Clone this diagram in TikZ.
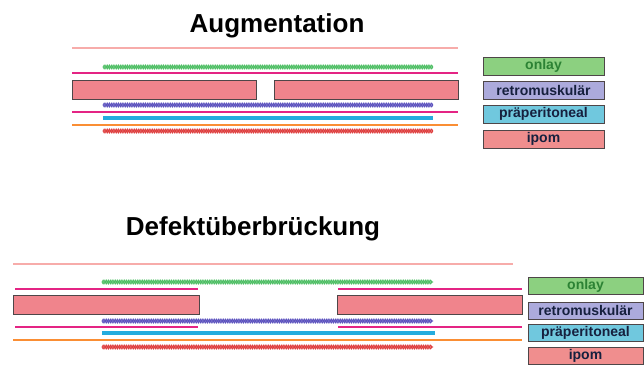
\documentclass[tikz,border=0pt]{standalone}
\usepackage{fontspec}
\setmainfont{Liberation Sans}
\usetikzlibrary{decorations.pathmorphing}

\definecolor{skinline}{RGB}{247,172,170}
\definecolor{fascia}{RGB}{228,36,132}
\definecolor{musclefill}{RGB}{240,132,140}
\definecolor{musclerim}{RGB}{78,70,72}
\definecolor{onlaymesh}{RGB}{78,190,100}
\definecolor{retromesh}{RGB}{92,82,190}
\definecolor{praeline}{RGB}{36,172,222}
\definecolor{peritoneum}{RGB}{250,142,52}
\definecolor{ipommesh}{RGB}{222,62,62}
\definecolor{onlayfill}{RGB}{140,208,128}
\definecolor{onlaytext}{RGB}{44,130,52}
\definecolor{retrofill}{RGB}{172,170,220}
\definecolor{praefill}{RGB}{112,200,222}
\definecolor{ipomfill}{RGB}{240,142,142}
\definecolor{labeltext}{RGB}{22,32,62}

\tikzset{
    skin/.style = {draw = skinline, line width = 2.2pt},
    fasciabar/.style = {draw = fascia, line width = 2pt},
    muscleslab/.style = {draw = musclerim, fill = musclefill, line width = 1pt},
    meshwave/.style = {decorate, decoration = {snake, amplitude = 1.8pt, segment length = 3.6pt}, line width = 0.9pt},
    praeband/.style = {draw = praeline, line width = 4pt},
    periline/.style = {draw = peritoneum, line width = 2pt},
    heading/.style = {anchor = base, font = \bfseries\fontsize{26}{26}\selectfont},
    legendbox/.style = {draw = musclerim, line width = 1pt, inner sep = 0pt, text = labeltext,
        font = \bfseries\fontsize{14}{14}\selectfont}
}

% a mesh drawn as two crossing waves
\newcommand\meshstrip[4]{%
    \draw[meshwave, #1] (#3,#2) -- (#4,#2);
    \draw[meshwave, #1, decoration = {mirror}] (#3,#2) -- (#4,#2);
}

\begin{document}
\begin{tikzpicture}[x = 1pt, y = -1pt]
    \useasboundingbox (0,0) rectangle (644,369);

    % Augmentation
    \node[heading] (augtitle) at (277,33) {Augmentation};
    \draw[skin] (72,48) -- (458,48);
    \meshstrip{onlaymesh}{67}{103}{433}
    \draw[fasciabar] (72,73) -- (458,73);
    \draw[muscleslab] (72,80) rectangle (256,99);
    \draw[muscleslab] (274,80) rectangle (458,99);
    \meshstrip{retromesh}{105}{103}{433}
    \draw[fasciabar] (72,112) -- (458,112);
    \draw[praeband] (103,118) -- (433,118);
    \draw[periline] (72,124.5) -- (458,124.5);
    \meshstrip{ipommesh}{131}{103}{433}

    \node[legendbox, fill = onlayfill, text = onlaytext, minimum width = 121pt, minimum height = 18pt] (augonlay) at (543.5,66) {onlay};
    \node[legendbox, fill = retrofill, minimum width = 121pt, minimum height = 18pt] (augretro) at (543.5,90) {retromuskulär};
    \node[legendbox, fill = praefill, minimum width = 121pt, minimum height = 18pt] (augprae) at (543.5,114) {präperitoneal};
    \node[legendbox, fill = ipomfill, minimum width = 121pt, minimum height = 18pt] (augipom) at (543.5,139) {ipom};

    % Defektueberbrueckung
    \node[heading] (brtitle) at (253,235) {Defektüberbrückung};
    \draw[skin] (13,264) -- (513,264);
    \meshstrip{onlaymesh}{282}{102}{433}
    \draw[fasciabar] (15,289) -- (198,289);
    \draw[fasciabar] (338,289) -- (522,289);
    \draw[muscleslab] (13,295) rectangle (199,314);
    \draw[muscleslab] (337,295) rectangle (522,314);
    \meshstrip{retromesh}{321}{102}{433}
    \draw[fasciabar] (15,327) -- (198,327);
    \draw[fasciabar] (338,327) -- (522,327);
    \draw[praeband] (102,333) -- (435,333);
    \draw[periline] (13,339.5) -- (522,339.5);
    \meshstrip{ipommesh}{347}{102}{433}

    \node[legendbox, fill = onlayfill, text = onlaytext, minimum width = 115pt, minimum height = 17pt] (bronlay) at (585.5,285.5) {onlay};
    \node[legendbox, fill = retrofill, minimum width = 115pt, minimum height = 17pt] (brretro) at (585.5,310.5) {retromuskulär};
    \node[legendbox, fill = praefill, minimum width = 115pt, minimum height = 17pt] (brprae) at (585.5,332.5) {präperitoneal};
    \node[legendbox, fill = ipomfill, minimum width = 115pt, minimum height = 17pt] (bripom) at (585.5,356) {ipom};
\end{tikzpicture}
\end{document}
